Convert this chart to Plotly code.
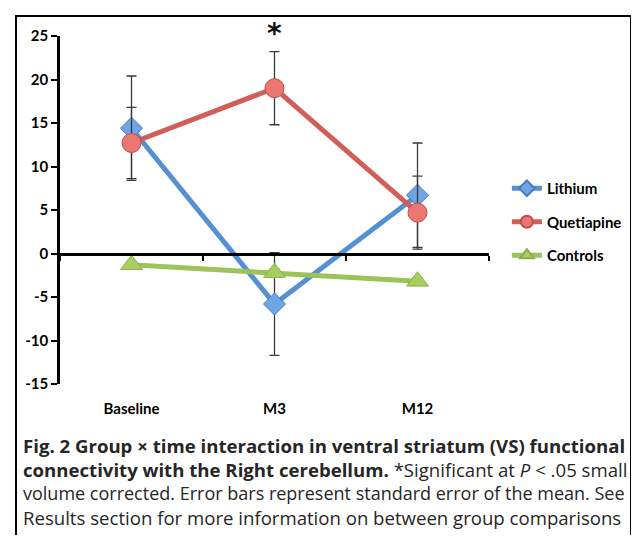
import plotly.graph_objects as go

categories = ["Baseline", "M3", "M12"]
lithium = [14.4, -5.8, 6.7]
lithium_err = [6.0, 5.9, 6.0]
quetiapine = [12.7, 19.0, 4.7]
quetiapine_err = [4.1, 4.2, 4.2]
controls = [-1.3, -2.2, -3.2]
controls_err = [0.4, 0.4, 0.4]
y_ticks = [-15, -10, -5, 0, 5, 10, 15, 20, 25]
y_tick_text = [str(v) for v in y_ticks]
boundary_ticks = [-0.5, 0.5, 1.5, 2.5]

# page body has an 8px margin; target screen coordinates are used below
OFF = 8
SW, SH = 639, 545
L, Rpx, T, Bpx = 60, 492, 36, 384   # plot area in screen px
PW, PH = Rpx - L, Bpx - T
W, H = SW - OFF, SH - OFF


def px(x):
    return (x - L) / PW


def py(y):
    return (Bpx - y) / PH


FONT = "Lato"
CAP_FONT = "Open Sans"
series = [
    ("Lithium", lithium, lithium_err, "rgb(84,144,210)", "rgb(110,165,228)", "rgb(70,125,190)", "diamond", 17),
    ("Quetiapine", quetiapine, quetiapine_err, "rgb(208,94,89)", "rgb(236,118,113)", "rgb(190,80,75)", "circle", 19),
    ("Controls", controls, controls_err, "rgb(155,195,90)", "rgb(168,206,96)", "rgb(140,175,75)", "triangle-up", 19),
]

fig = go.Figure()
for name, vals, errs, lc, fc, oc, sym, ms in series:
    fig.add_trace(go.Scatter(
        x=categories, y=vals, name="<b>" + name + "</b>", mode="lines+markers",
        line=dict(color=lc, width=5),
        marker=dict(symbol=sym, size=ms, color=fc, line=dict(color=oc, width=1)),
        error_y=dict(type="data", array=errs, visible=True, color="#3a3a3a",
                     thickness=1.3, width=5),
        legendgroup=name,
    ))

# zero-line axis carrying category boundary ticks
fig.add_trace(go.Scatter(x=[None], y=[None], xaxis="x2", showlegend=False,
                         hoverinfo="skip"))

# frame drawn as thin filled annotation boxes (left, top, right edges)
fx0, fx1, fy0, fy1 = 15, 634, 15, SH
for ax, ay, bw, bh in [(fx0, fy0, 2, fy1 - fy0 - 10),
                       (fx0, fy0, fx1 - fx0 + 2, 2),
                       (fx1, fy0, 2, fy1 - fy0 - 10)]:
    fig.add_annotation(x=px(ax), y=py(ay), xref="paper", yref="paper", text=" ",
                       showarrow=False, xanchor="left", yanchor="top",
                       width=bw, height=bh, bgcolor="black", borderpad=0,
                       borderwidth=0, font=dict(size=1))

fig.add_annotation(x="M3", y=py(33), xref="x", yref="paper", text="<b>*</b>",
                   showarrow=False,
                   font=dict(family="DejaVu Sans", size=28, color="#111"),
                   yanchor="middle")

captions = [
    "<b>Fig. 2 Group × time interaction in ventral striatum (VS) functional</b>",
    "<b>connectivity with the Right cerebellum.</b> *Significant at <i>P</i> < .05 small",
    "volume corrected. Error bars represent standard error of the mean. See",
    "Results section for more information on between group comparisons",
]
cap_size = [18.6, 18.6, 18.0, 18.6]
cap_y = [445, 469, 493, 517]
for t, fs, yy in zip(captions, cap_size, cap_y):
    fig.add_annotation(x=px(21), y=py(yy), xref="paper", yref="paper", text=t,
                       showarrow=False, xanchor="left", yanchor="middle",
                       font=dict(family=CAP_FONT, size=fs, color="#262626"))

fig.update_layout(
    width=W, height=H,
    margin=dict(l=L - OFF, r=W - (Rpx - OFF), t=T - OFF, b=H - (Bpx - OFF), pad=0),
    paper_bgcolor="white", plot_bgcolor="white",
    font=dict(family=FONT, size=14, color="black"),
    showlegend=True,
    legend=dict(x=px(510), y=py(172), xanchor="left", yanchor="top",
                font=dict(family=FONT, size=15, color="black"),
                itemsizing="constant",
                tracegroupgap=11, itemwidth=30, bgcolor="rgba(0,0,0,0)"),
    xaxis=dict(type="category", range=[-0.5, 2.5], showline=False, ticks="",
               showgrid=False, zeroline=False, ticklabelstandoff=14,
               tickfont=dict(family=FONT, size=15, color="black", weight="bold")),
    xaxis2=dict(overlaying="x", anchor="free", position=py(254),
                range=[-0.5, 2.5], showline=True, linecolor="black", linewidth=2.5,
                ticks="outside", ticklen=5, tickwidth=2, tickcolor="black",
                tickvals=boundary_ticks, showticklabels=False, showgrid=False,
                zeroline=False, side="bottom"),
    yaxis=dict(range=[-15, 25], tickvals=y_ticks, ticktext=y_tick_text,
               showline=True, linecolor="black",
               linewidth=2.5, ticks="outside", ticklen=6, tickwidth=2,
               tickcolor="black", showgrid=False, zeroline=False,
               tickfont=dict(family=FONT, size=15, color="black", weight="bold")),
)

fig.write_html("out.html")
